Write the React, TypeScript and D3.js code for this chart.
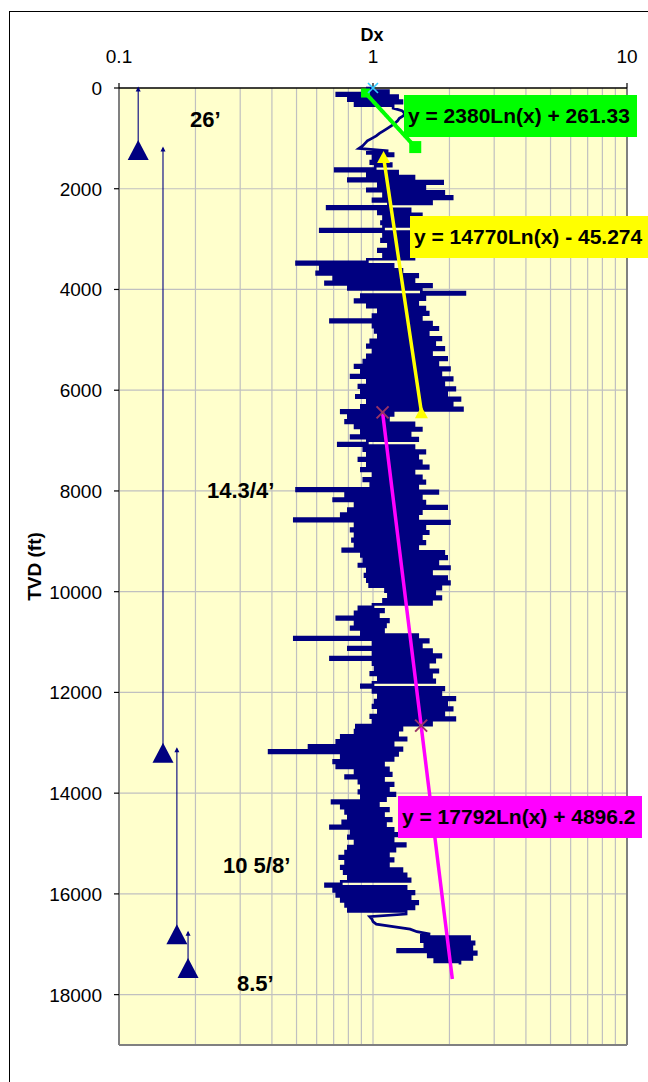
import React from 'react';
import * as d3 from 'd3';

// ---- Data ----
const DEPTH_STEP = 50; // ft between consecutive Dx samples, starting at 0 ft
const dxValues: number[] = [
  1.0, 0.95, 1.15, 0.72, 1.25, 0.8, 1.3, 0.85, 1.2, 1.3,
  1.33, 1.32, 1.27, 1.25, 1.22, 1.18, 1.14, 1.1, 1.06, 1.03,
  0.99, 0.95, 0.93, 0.91, 0.88, 1.15, 0.95, 1.2, 1.0, 1.12,
  0.98, 1.18, 1.02, 0.71, 1.25, 0.95, 1.45, 0.8, 1.88, 1.05,
  1.6, 0.95, 1.9, 1.1, 2.05, 1.0, 1.7, 1.15, 0.66, 1.4,
  1.05, 1.55, 1.1, 1.65, 1.08, 1.45, 1.1, 0.62, 1.5, 1.1,
  1.55, 1.08, 1.95, 1.15, 1.5, 1.05, 1.6, 1.1, 1.45, 0.95,
  0.5, 1.2, 0.62, 1.3, 0.6, 1.5, 0.7, 1.45, 0.65, 1.7,
  0.8, 1.55, 2.3, 0.9, 1.6, 0.85, 1.5, 0.95, 1.6, 1.05,
  1.65, 1.0, 1.55, 0.68, 1.7, 1.0, 1.8, 1.02, 1.65, 1.05,
  1.85, 0.98, 1.75, 0.95, 1.9, 1.0, 1.7, 0.95, 1.95, 0.92,
  1.8, 0.85, 2.0, 0.9, 1.85, 0.82, 2.05, 0.95, 1.9, 0.88,
  2.1, 0.9, 1.95, 0.86, 2.2, 0.95, 2.05, 0.9, 2.25, 0.75,
  1.2, 0.8, 1.15, 0.78, 1.45, 0.85, 1.55, 0.9, 1.4, 0.82,
  1.5, 0.95, 0.73, 1.45, 0.92, 1.6, 0.95, 1.5, 0.88, 1.55,
  0.95, 1.65, 0.9, 1.45, 1.0, 1.55, 0.92, 1.6, 0.98, 1.5,
  0.5, 1.8, 0.78, 1.55, 0.7, 1.6, 0.85, 1.95, 0.8, 1.55,
  0.75, 1.5, 0.49, 2.0, 0.85, 1.6, 0.82, 1.65, 0.85, 1.55,
  0.83, 1.6, 0.85, 1.5, 0.76, 1.9, 0.9, 1.95, 0.92, 1.8,
  0.88, 2.0, 0.95, 1.7, 0.93, 1.95, 0.95, 2.0, 0.97, 1.85,
  1.12, 1.75, 1.15, 1.85, 1.1, 1.7, 1.0, 0.88, 1.1, 0.85,
  1.05, 0.72, 1.15, 0.85, 1.12, 0.82, 1.1, 0.9, 1.5, 0.49,
  1.65, 1.0, 1.55, 0.8, 1.7, 1.0, 1.85, 0.68, 1.75, 1.0,
  1.65, 1.02, 1.8, 0.98, 1.7, 1.05, 1.75, 1.0, 0.9, 1.9,
  1.0, 1.85, 1.05, 2.1, 1.02, 1.95, 1.0, 2.05, 1.05, 1.9,
  0.98, 2.1, 1.0, 1.7, 0.86, 1.3, 0.85, 1.25, 0.75, 1.35,
  0.72, 1.2, 0.56, 1.3, 0.39, 1.25, 0.75, 1.2, 0.7, 1.1,
  0.72, 1.15, 0.85, 1.18, 0.78, 1.1, 0.88, 1.2, 0.9, 1.15,
  0.88, 1.22, 0.9, 1.12, 0.69, 1.05, 0.75, 1.15, 0.78, 1.1,
  0.8, 1.18, 0.76, 1.12, 0.68, 1.2, 0.82, 1.25, 0.8, 1.2,
  0.85, 1.34, 0.8, 1.22, 0.78, 1.15, 0.74, 1.2, 0.78, 1.15,
  0.75, 1.3, 0.77, 1.35, 0.8, 1.4, 0.75, 0.65, 1.35, 0.7,
  1.45, 0.72, 1.4, 0.75, 1.5, 0.78, 1.45, 0.8, 1.35, 0.97,
  0.99, 1.0, 1.03, 1.2, 1.4, 1.49, 1.68, 1.55, 2.4, 1.55,
  2.5, 1.6, 2.45, 1.25, 2.55, 1.65, 2.45, 1.75, 2.2,
];
// depth ranges (ft) where the log runs as a smooth connector instead of a spiky record
const smoothRanges: [number, number][] = [[400, 1250], [16400, 16800]];

const yTickValues = [0, 2000, 4000, 6000, 8000, 10000, 12000, 14000, 16000, 18000];
const xTickValues = [0.1, 1, 10];
const xGridValues = [0.2, 0.3, 0.4, 0.5, 0.6, 0.7, 0.8, 0.9, 1, 2, 3, 4, 5, 6, 7, 8, 9];

// Log trend lines: depth = a * ln(Dx) + b
const trendA = [2380, 14770, 17792];
const trendB = [261.33, -45.274, 4896.2];
const trendFrom = [100, 1370, 6440];
const trendTo = [1173, 6440, 17690];
const trendLabels = ['y = 2380Ln(x) + 261.33', 'y = 14770Ln(x) - 45.274', 'y = 17792Ln(x) + 4896.2'];
const magentaMarkDepths = [6440, 12660];

// Casing points
const casingDx = [0.119, 0.149, 0.169, 0.187];
const casingTop = [0, 1190, 13120, 16760];
const casingShoe = [1230, 13200, 16800, 17470];
const casingLabels = ['26\u2019', '14.3/4\u2019', '10 5/8\u2019', '8.5\u2019'];

const W = 648;
const H = 1082;
const FONT = "'Liberation Sans', Arial, sans-serif";

export default function App() {
  const x = d3.scaleLog().domain([0.1, 10]).range([119, 627]);
  const y = d3.scaleLinear().domain([0, 19000]).range([88, 1045]);

  const tracePts: [number, number][] = dxValues.map((v, i) => [v, i * DEPTH_STEP]);
  const inSmooth = (d: number) => smoothRanges.some(([a, b]) => d >= a && d <= b);

  // Build the trace: horizontal spikes (step) in the record, straight segments in the connectors
  let traceD = '';
  tracePts.forEach((p, i) => {
    const px = x(p[0]);
    const py = y(p[1]);
    if (i === 0) {
      traceD += `M${px},${py}`;
      return;
    }
    const prev = tracePts[i - 1];
    if (inSmooth(prev[1]) && inSmooth(p[1])) {
      traceD += `L${px},${py}`;
    } else {
      traceD += `L${px},${y(prev[1])}L${px},${py}`;
    }
  });

  const line = d3
    .line<[number, number]>()
    .x((d) => x(d[0]))
    .y((d) => y(d[1]));

  const trendColors = ['#00FF00', '#FFFF00', '#FF00FF'];
  const trendPaths = trendA.map((a, k) => {
    const n = 60;
    const pts: [number, number][] = d3.range(n + 1).map((j) => {
      const depth = trendFrom[k] + ((trendTo[k] - trendFrom[k]) * j) / n;
      return [Math.exp((depth - trendB[k]) / a), depth];
    });
    return line(pts) as string;
  });
  const trendX = (k: number, depth: number) => x(Math.exp((depth - trendB[k]) / trendA[k]));

  const labelBoxes = [
    { x: 404, y: 95, w: 233, h: 42, tx: 408, ty: 123 },
    { x: 410, y: 216, w: 240, h: 42, tx: 414, ty: 244 },
    { x: 398, y: 796, w: 244, h: 42, tx: 402, ty: 824 },
  ];
  const casingLabelPos = [
    { x: 190, y: 127 },
    { x: 207, y: 498 },
    { x: 223, y: 873 },
    { x: 237, y: 991 },
  ];

  const tri = (cx: number, cy: number, w: number, h: number) =>
    `M${cx},${cy - h / 2}L${cx + w / 2},${cy + h / 2}L${cx - w / 2},${cy + h / 2}Z`;
  const cross = (cx: number, cy: number, r: number) =>
    `M${cx - r},${cy - r}L${cx + r},${cy + r}M${cx - r},${cy + r}L${cx + r},${cy - r}`;

  const [x0, x1] = x.range();
  const [y0, y1] = y.range();

  return (
    <svg
      width={W}
      height={H}
      style={{ position: 'absolute', left: 0, top: 0, background: '#fff' }}
      fontFamily={FONT}
    >
      {/* outer chart border */}
      <rect x={9.5} y={11.5} width={700} height={1200} fill="#fff" stroke="#000" strokeWidth={1} />

      {/* plot area */}
      <rect x={x0} y={y0} width={x1 - x0} height={y1 - y0} fill="#FFFFCC" />
      {xGridValues.map((v) => (
        <line key={'gx' + v} x1={x(v)} x2={x(v)} y1={y0} y2={y1} stroke="#C0C0C0" strokeWidth={1.2} />
      ))}
      {yTickValues.slice(1).map((v) => (
        <line key={'gy' + v} x1={x0} x2={x1} y1={y(v)} y2={y(v)} stroke="#C0C0C0" strokeWidth={1.2} />
      ))}
      {/* frame */}
      <line x1={x0} x2={x0} y1={y0} y2={y1} stroke="#808080" strokeWidth={2} />
      <line x1={x1} x2={x1} y1={y0} y2={y1} stroke="#808080" strokeWidth={2} />
      <line x1={x0} x2={x1} y1={y1} y2={y1} stroke="#808080" strokeWidth={2} />
      <line x1={x0} x2={x1} y1={y0} y2={y0} stroke="#000" strokeWidth={1.5} />
      {xTickValues.map((v) => (
        <line key={'tx' + v} x1={x(v)} x2={x(v)} y1={y0 - 5} y2={y0} stroke="#000" strokeWidth={1.2} />
      ))}
      {yTickValues.map((v) => (
        <line key={'ty' + v} x1={x0 - 5} x2={x0} y1={y(v)} y2={y(v)} stroke="#000" strokeWidth={1.2} />
      ))}

      {/* Dx trace */}
      <path d={traceD} fill="none" stroke="#000080" strokeWidth={2.7} strokeLinejoin="miter" />

      {/* trend lines */}
      {trendPaths.map((p, k) => (
        <path key={'tr' + k} d={p} fill="none" stroke={trendColors[k]} strokeWidth={k === 0 ? 4 : 3.5} />
      ))}
      {/* green squares */}
      {[trendFrom[0], trendTo[0]].map((dd, j) => {
        const s = j === 0 ? 9 : 12;
        return (
          <rect key={'gs' + j} x={trendX(0, dd) - s / 2} y={y(dd) - s / 2} width={s} height={s} fill="#00FF00" />
        );
      })}
      {/* yellow triangles */}
      {[trendFrom[1], trendTo[1]].map((dd, j) => (
        <path key={'yt' + j} d={tri(trendX(1, dd), y(dd), 13, 12)} fill="#FFFF00" />
      ))}
      {/* magenta crosses */}
      {magentaMarkDepths.map((dd, j) => (
        <path key={'mx' + j} d={cross(trendX(2, dd), y(dd), 6)} stroke="#993366" strokeWidth={2} fill="none" />
      ))}
      {/* cyan cross at origin */}
      <path d={cross(x(1), y(0), 5)} stroke="#33CCFF" strokeWidth={1.6} fill="none" />

      {/* trend labels */}
      {labelBoxes.map((b, k) => (
        <g key={'lb' + k}>
          <rect x={b.x} y={b.y} width={b.w} height={b.h} fill={trendColors[k]} />
          <text x={b.tx} y={b.ty} fontSize={21} fontWeight="bold" fill="#000">
            {trendLabels[k]}
          </text>
        </g>
      ))}

      {/* casing */}
      {casingDx.map((cdx, k) => {
        const cx = x(cdx);
        const topY = y(casingTop[k]);
        const shoeY = y(casingShoe[k]);
        return (
          <g key={'cs' + k}>
            <line x1={cx} x2={cx} y1={topY} y2={shoeY} stroke="#000080" strokeWidth={1.1} />
            <path d={tri(cx, topY + 1, 5, 5)} fill="#000080" />
            <path d={tri(cx, shoeY, 21, 20)} fill="#000080" />
          </g>
        );
      })}
      {casingLabels.map((t, k) => (
        <text key={'cl' + k} x={casingLabelPos[k].x} y={casingLabelPos[k].y} fontSize={22} fontWeight="bold">
          {t}
        </text>
      ))}

      {/* axis labels */}
      {xTickValues.map((v) => (
        <text key={'xl' + v} x={x(v)} y={63} fontSize={19} textAnchor="middle">
          {String(v)}
        </text>
      ))}
      {yTickValues.map((v) => (
        <text key={'yl' + v} x={102} y={y(v) + 7} fontSize={19} textAnchor="end">
          {String(v)}
        </text>
      ))}
      <text x={372} y={41} fontSize={18} fontWeight="bold" textAnchor="middle">
        Dx
      </text>
      <text
        transform={`translate(41,${(y0 + y1) / 2}) rotate(-90)`}
        fontSize={19}
        fontWeight="bold"
        textAnchor="middle"
      >
        TVD (ft)
      </text>
    </svg>
  );
}
